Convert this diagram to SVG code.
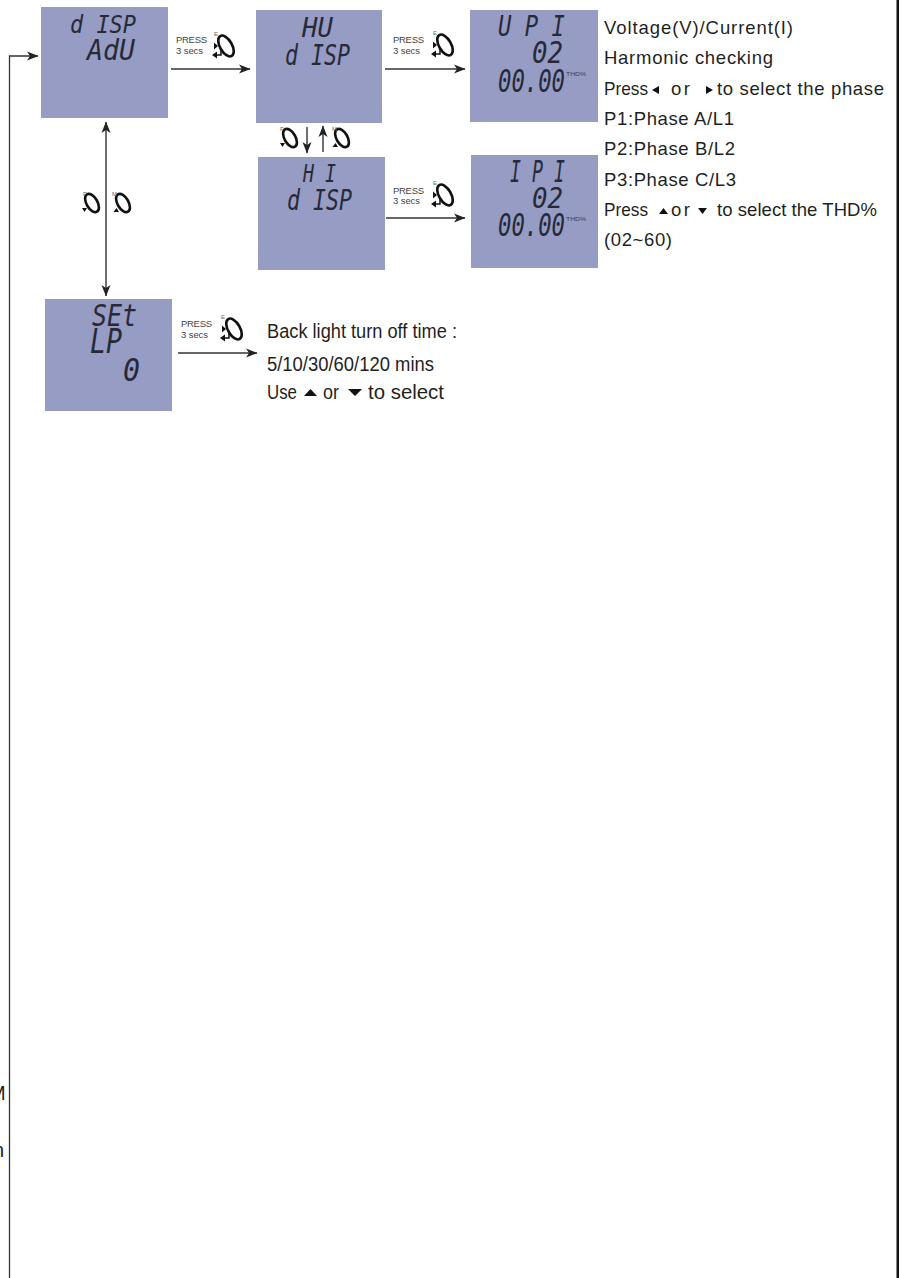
<svg xmlns="http://www.w3.org/2000/svg" xmlns:xlink="http://www.w3.org/1999/xlink" width="905" height="1278" viewBox="0 0 905 1278">
<style>
.panel{fill:#979cc4}
.lcd{font-family:"DejaVu Sans Mono",monospace;font-style:italic;font-weight:400;fill:#262a38}
.thd{font-family:"Liberation Sans",sans-serif;font-size:5px;fill:#3a3c50}
.t{font-family:"Liberation Sans",Arial,sans-serif;font-size:18.500px;fill:#1f1f1f}
.b{font-family:"Liberation Sans",Arial,sans-serif;font-size:20px;fill:#1f1f1f}
.p{font-family:"Liberation Sans",Arial,sans-serif;font-size:9.500px;fill:#444}
.k{font-family:"Liberation Sans",Arial,sans-serif;font-size:6px;fill:#666}
.c{fill:none;stroke:#333;stroke-width:1.300}
.v{fill:none;stroke:#555;stroke-width:1.700}
.ring{fill:none;stroke:#111;stroke-width:2.600}
.tri{fill:#111}
</style>
<defs>
<marker id="ah" viewBox="0 -6 12 12" refX="11" refY="0" markerUnits="userSpaceOnUse" markerWidth="12" markerHeight="12" orient="auto-start-reverse"><path d="M0,-4.500 L11.500,0 L0,4.500 L3,0Z" fill="#222"/></marker>
<g id="enter"><ellipse class="ring" rx="6" ry="11.500" transform="rotate(-30)"/><path class="tri" d="M-12,-3.500 L-8,0 L-12,3.500Z"/><path fill="none" stroke="#111" stroke-width="1.500" d="M-5,4 V9 H-10"/><path class="tri" d="M-9,5.500 L-14,9 L-9,12.500Z"/></g>
<g id="ringP"><ellipse class="ring" rx="5.500" ry="10" transform="rotate(-30)"/><path class="tri" d="M-10,5 H-5 L-7.500,9Z"/></g>
<g id="ringM"><ellipse class="ring" rx="5.500" ry="10" transform="rotate(-30)"/><path class="tri" d="M-9.500,9 H-4 L-6.500,5Z"/></g>
</defs>
<rect width="905" height="1278" fill="#fff"/>
<rect x="896.500" y="0" width="2.500" height="1278" fill="#111"/>

<g id="panel-disp-adu"><rect class="panel" x="41" y="7" width="127" height="111"/>
<text class="lcd" x="70" y="33" font-size="25" textLength="66" lengthAdjust="spacingAndGlyphs">d ISP</text>
<text class="lcd" x="87" y="60" font-size="29" textLength="48" lengthAdjust="spacingAndGlyphs">AdU</text></g>
<g id="panel-hu"><rect class="panel" x="256" y="10" width="126" height="113"/>
<text class="lcd" x="302" y="37" font-size="27" textLength="31" lengthAdjust="spacingAndGlyphs">HU</text>
<text class="lcd" x="285" y="65" font-size="29" textLength="65" lengthAdjust="spacingAndGlyphs">d ISP</text></g>
<g id="panel-up1"><rect class="panel" x="470" y="10" width="128" height="112"/>
<text class="lcd" x="498" y="36" font-size="29" textLength="67" lengthAdjust="spacingAndGlyphs">U P I</text>
<text class="lcd" x="532" y="63" font-size="31" textLength="31" lengthAdjust="spacingAndGlyphs">02</text>
<text class="lcd" x="498" y="92" font-size="32" textLength="67" lengthAdjust="spacingAndGlyphs">00.00</text>
<text class="thd" x="566" y="76" textLength="20" lengthAdjust="spacingAndGlyphs">THD%</text></g>
<g id="panel-hi"><rect class="panel" x="258" y="157" width="127" height="113"/>
<text class="lcd" x="303" y="182" font-size="25" textLength="33" lengthAdjust="spacingAndGlyphs">H I</text>
<text class="lcd" x="287" y="210" font-size="28" textLength="65" lengthAdjust="spacingAndGlyphs">d ISP</text></g>
<g id="panel-ip1"><rect class="panel" x="471" y="155" width="127" height="113"/>
<text class="lcd" x="510" y="182" font-size="30" textLength="55" lengthAdjust="spacingAndGlyphs">I P I</text>
<text class="lcd" x="532" y="208" font-size="29" textLength="31" lengthAdjust="spacingAndGlyphs">02</text>
<text class="lcd" x="498" y="236" font-size="32" textLength="67" lengthAdjust="spacingAndGlyphs">00.00</text>
<text class="thd" x="566" y="221" textLength="20" lengthAdjust="spacingAndGlyphs">THD%</text></g>
<g id="panel-set"><rect class="panel" x="45" y="299" width="127" height="112"/>
<text class="lcd" x="92" y="326" font-size="31" textLength="45" lengthAdjust="spacingAndGlyphs">SEt</text>
<text class="lcd" x="90" y="353" font-size="33" textLength="32" lengthAdjust="spacingAndGlyphs">LP</text>
<text class="lcd" x="123" y="381" font-size="32" textLength="17" lengthAdjust="spacingAndGlyphs">0</text></g>

<g id="connectors">
<path class="c" d="M9.500,1278 V56 H38" marker-end="url(#ah)"/>
<path class="c" d="M171,69 H250" marker-end="url(#ah)"/>
<path class="c" d="M385,69 H465" marker-end="url(#ah)"/>
<path class="c" d="M386,218 H465" marker-end="url(#ah)"/>
<path class="c" d="M178,353 H257" marker-end="url(#ah)"/>
<path class="v" d="M106,122 V296" marker-start="url(#ah)" marker-end="url(#ah)"/>
<path class="v" d="M307,127 V153" marker-end="url(#ah)"/>
<path class="v" d="M323,152 V126" marker-end="url(#ah)"/>
</g>

<g id="key-1"><text class="p" x="176" y="43" textLength="31">PRESS</text><text class="p" x="176" y="54" textLength="27">3 secs</text><use xlink:href="#enter" href="#enter" x="226" y="46"/><text class="k" x="214" y="36">E</text></g>
<g id="key-2"><text class="p" x="393" y="43" textLength="31">PRESS</text><text class="p" x="393" y="54" textLength="27">3 secs</text><use xlink:href="#enter" href="#enter" x="445" y="45"/><text class="k" x="433" y="35">E</text></g>
<g id="key-3"><text class="p" x="393" y="194" textLength="31">PRESS</text><text class="p" x="393" y="204" textLength="27">3 secs</text><use xlink:href="#enter" href="#enter" x="445" y="195"/><text class="k" x="433" y="185">E</text></g>
<g id="key-4"><text class="p" x="181" y="327" textLength="31">PRESS</text><text class="p" x="181" y="338" textLength="27">3 secs</text><use xlink:href="#enter" href="#enter" x="234" y="329"/><text class="k" x="221" y="319">E</text></g>
<g id="key-5"><use xlink:href="#ringP" href="#ringP" x="290" y="138"/><text class="k" x="280" y="131">P</text></g>
<g id="key-6"><use xlink:href="#ringM" href="#ringM" x="342" y="138"/><text class="k" x="332" y="131">M</text></g>
<g id="key-7"><use xlink:href="#ringP" href="#ringP" x="92" y="203"/><text class="k" x="83" y="196">P</text></g>
<g id="key-8"><use xlink:href="#ringM" href="#ringM" x="123" y="203"/><text class="k" x="112" y="196">M</text></g>

<g id="note-harmonic">
<text class="t" x="604" y="34" textLength="189">Voltage(V)/Current(I)</text>
<text class="t" x="604" y="64" textLength="169">Harmonic checking</text>
<text class="t" x="604" y="95" textLength="44" lengthAdjust="spacingAndGlyphs">Press</text>
<path class="tri" d="M652,90 L659,86 V94Z M706,86 L713,90 L706,94Z"/>
<text class="t" x="671" y="95" textLength="19">or</text>
<text class="t" x="717" y="95" textLength="167">to select the phase</text>
<text class="t" x="604" y="125" textLength="130">P1:Phase A/L1</text>
<text class="t" x="604" y="155" textLength="131">P2:Phase B/L2</text>
<text class="t" x="604" y="186" textLength="132">P3:Phase C/L3</text>
<text class="t" x="604" y="216" textLength="44" lengthAdjust="spacingAndGlyphs">Press</text>
<path class="tri" d="M659,214 L663.500,208 L668,214Z M698,208 H707 L702.500,214Z"/>
<text class="t" x="671" y="216" textLength="19">or</text>
<text class="t" x="717" y="216" textLength="160">to select the THD%</text>
<text class="t" x="604" y="246" textLength="68">(02~60)</text>
</g>
<g id="note-backlight">
<text class="b" x="267" y="338" textLength="190" lengthAdjust="spacingAndGlyphs">Back light turn off time :</text>
<text class="b" x="267" y="371" textLength="167" lengthAdjust="spacingAndGlyphs">5/10/30/60/120 mins</text>
<text class="b" x="267" y="399" textLength="30" lengthAdjust="spacingAndGlyphs">Use</text>
<path class="tri" d="M304,396 L310.500,389 L317,396Z M348,389 H362 L355,396Z"/>
<text class="b" x="323" y="399" textLength="16" lengthAdjust="spacingAndGlyphs">or</text>
<text class="b" x="368" y="399" textLength="76" lengthAdjust="spacingAndGlyphs">to select</text>
</g>
<g id="page-edge-fragments">
<text class="b" x="-11" y="1100" fill="#444">M</text>
<text class="b" x="-7" y="1157" fill="#444">n</text>
</g>
</svg>
